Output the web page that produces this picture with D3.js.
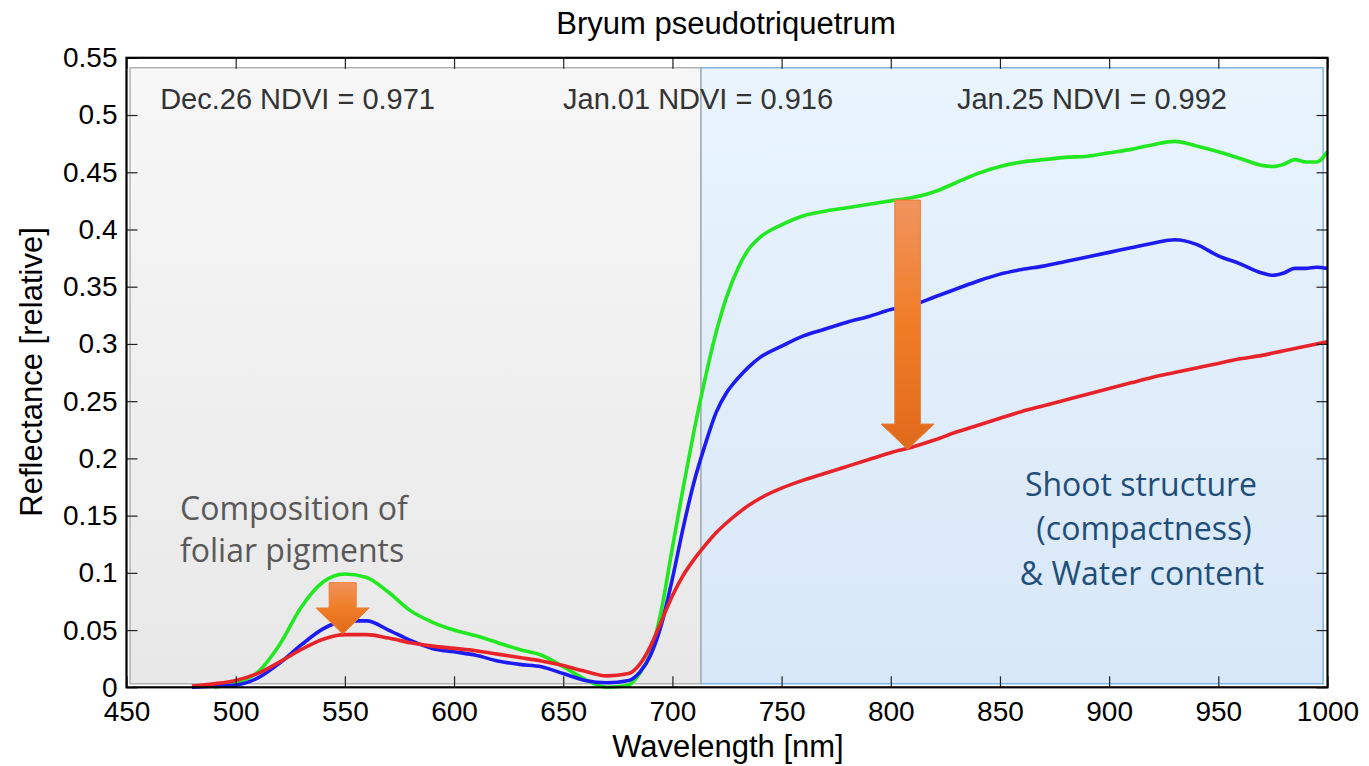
<!DOCTYPE html>
<html lang="en">
<head>
<meta charset="utf-8">
<title>Bryum pseudotriquetrum</title>
<script src="https://cdn.jsdelivr.net/npm/d3@7"></script>
<style>
  body { margin: 0; background: #fff; }
  text { font-family: "Liberation Sans", Arial, sans-serif; }
  .note { font-family: "Open Sans", "Noto Sans", sans-serif; }
</style>
</head>
<body>
<script>
// wavelength grid [nm]
var wl = [480,490,500,510,520,530,540,550,560,570,580,590,600,610,620,630,640,650,660,670,680,
          685,690,695,700,705,710,715,720,725,730,735,740,
          750,760,770,780,790,800,810,820,830,840,850,860,870,880,890,900,910,920,930,940,950,960,970,
          975,980,985,990,995,1000];

// reflectance
var greenVals = [null,0.0,0.004,0.013,0.037,0.07,0.092,0.099,0.096,0.083,0.067,0.057,0.05,0.045,0.039,0.033,0.028,0.018,0.007,0.0,0.002,
          0.012,0.03,0.068,0.122,0.175,0.225,0.27,0.31,0.342,0.366,0.383,0.393,
          0.404,0.412,0.416,0.419,0.422,0.425,0.428,0.433,0.441,0.449,0.455,0.459,0.461,0.463,0.464,0.467,0.47,0.474,0.477,0.473,0.468,0.462,0.456,
          0.455,0.457,0.461,0.459,0.459,0.468];
var blueVals = [0.0,0.001,0.002,0.008,0.021,0.037,0.051,0.058,0.058,0.05,0.041,0.034,0.031,0.028,0.023,0.02,0.018,0.012,0.006,0.004,0.006,
          0.013,0.028,0.055,0.095,0.14,0.18,0.212,0.24,0.258,0.27,0.28,0.288,
          0.298,0.307,0.313,0.319,0.324,0.33,0.334,0.341,0.348,0.355,0.361,0.365,0.368,0.372,0.376,0.38,0.384,0.388,0.391,0.387,0.377,0.37,0.362,
          0.36,0.362,0.366,0.366,0.367,0.366];
var redVals = [0.001,0.003,0.006,0.012,0.022,0.033,0.042,0.046,0.046,0.043,0.039,0.036,0.034,0.032,0.029,0.026,0.023,0.019,0.014,0.01,0.012,
          0.02,0.036,0.058,0.08,0.098,0.112,0.124,0.135,0.144,0.152,0.159,0.165,
          0.174,0.181,0.187,0.193,0.199,0.205,0.21,0.216,0.223,0.229,0.235,0.241,0.246,0.251,0.256,0.261,0.266,0.271,0.275,0.279,0.283,0.287,0.29,
          0.292,0.294,0.296,0.298,0.3,0.302];

var seriesColors = ["#22e822", "#1c1cf2", "#e8242a"];

var xTicks = [450,500,550,600,650,700,750,800,850,900,950,1000];
var yTicks = [0,0.05,0.1,0.15,0.2,0.25,0.3,0.35,0.4,0.45,0.5,0.55];

var ndviLabels = ["Dec.26 NDVI = 0.971", "Jan.01 NDVI = 0.916", "Jan.25 NDVI = 0.992"];
var ndviStart = [465.4, 649.9, 830.3];

// arrows: [wavelength, top, head start, tip]
var arrows = [[549, 0.0914, 0.0693, 0.0466], [807.7, 0.4257, 0.23, 0.208]];

var w = 1369, h = 766;

var x = d3.scaleLinear().domain([450, 1000]).range([126.5, 1327.5]);
var y = d3.scaleLinear().domain([0, 0.55]).range([687.3, 57.8]);

var svg = d3.select("body").append("svg").attr("width", w).attr("height", h);

var defs = svg.append("defs");
var gg = defs.append("linearGradient").attr("id", "grayBg").attr("x1", 0).attr("y1", 0).attr("x2", 0).attr("y2", 1);
gg.append("stop").attr("offset", "0%").attr("stop-color", "#f7f7f7");
gg.append("stop").attr("offset", "100%").attr("stop-color", "#e8e8e8");
var bg = defs.append("linearGradient").attr("id", "blueBg").attr("x1", 0).attr("y1", 0).attr("x2", 0).attr("y2", 1);
bg.append("stop").attr("offset", "0%").attr("stop-color", "#e9f4fd");
bg.append("stop").attr("offset", "100%").attr("stop-color", "#d8e7f7");
var ag = defs.append("linearGradient").attr("id", "arrowFill").attr("x1", 0).attr("y1", 0).attr("x2", 0).attr("y2", 1);
ag.append("stop").attr("offset", "0%").attr("stop-color", "#f1935e");
ag.append("stop").attr("offset", "50%").attr("stop-color", "#f07d26");
ag.append("stop").attr("offset", "100%").attr("stop-color", "#e0691b");

// shaded regions (blue first so the gray divider sits on top)
var regTop = y.range()[1] + 10, regBot = y.range()[0] - 3.5;
svg.append("rect")
  .attr("x", x(713)).attr("y", regTop)
  .attr("width", x(998) - x(713)).attr("height", regBot - regTop)
  .attr("fill", "url(#blueBg)").attr("stroke", "#69a6de").attr("stroke-width", 1.2);
svg.append("rect")
  .attr("x", x(451.6)).attr("y", regTop)
  .attr("width", x(713) - x(451.6)).attr("height", regBot - regTop)
  .attr("fill", "url(#grayBg)").attr("stroke", "#a3a3a3").attr("stroke-width", 1.2);

// curves
var line = d3.line()
  .defined(function(d) { return d[1] != null; })
  .x(function(d) { return x(d[0]); })
  .y(function(d) { return y(d[1]); })
  .curve(d3.curveMonotoneX);

[greenVals, blueVals, redVals].forEach(function(vals, i) {
  svg.append("path")
    .datum(wl.map(function(v, j) { return [v, vals[j]]; }))
    .attr("d", line)
    .attr("fill", "none")
    .attr("stroke", seriesColors[i])
    .attr("stroke-width", 3.6)
    .attr("stroke-linejoin", "round");
});

// axes (ticks inward on all four sides)
var fmt = d3.format("~g");
function styleAxis(g) {
  g.select(".domain").remove();
  g.selectAll(".tick line").attr("stroke", "#222").attr("stroke-width", 1.2);
  g.selectAll(".tick text").attr("fill", "#000").attr("font-size", "28px")
    .attr("font-family", "'Liberation Sans', Arial, sans-serif");
}
svg.append("g").attr("transform", "translate(0," + y(0) + ")")
  .call(d3.axisBottom(x).tickValues(xTicks).tickSize(-11).tickPadding(14).tickFormat(fmt))
  .call(styleAxis);
svg.append("g").attr("transform", "translate(0," + y(0.55) + ")")
  .call(d3.axisTop(x).tickValues(xTicks).tickSize(-11).tickFormat(""))
  .call(styleAxis);
svg.append("g").attr("transform", "translate(" + x(450) + ",0)")
  .call(d3.axisLeft(y).tickValues(yTicks).tickSize(-11).tickPadding(9).tickFormat(fmt))
  .call(styleAxis);
svg.append("g").attr("transform", "translate(" + x(1000) + ",0)")
  .call(d3.axisRight(y).tickValues(yTicks).tickSize(-11).tickFormat(""))
  .call(styleAxis);

svg.append("rect")
  .attr("x", x(450)).attr("y", y(0.55))
  .attr("width", x(1000) - x(450)).attr("height", y(0) - y(0.55))
  .attr("fill", "none").attr("stroke", "#000").attr("stroke-width", 2.2);

// titles
svg.append("text").attr("x", 726).attr("y", 34).attr("text-anchor", "middle")
  .attr("font-size", "31px").attr("fill", "#000").text("Bryum pseudotriquetrum");
svg.append("text").attr("x", 728).attr("y", 757).attr("text-anchor", "middle")
  .attr("font-size", "31px").attr("fill", "#000").text("Wavelength [nm]");
svg.append("text").attr("transform", "translate(42,372) rotate(-90)").attr("text-anchor", "middle")
  .attr("font-size", "31px").attr("fill", "#000").text("Reflectance [relative]");

// NDVI labels
svg.selectAll(".ndvi").data(ndviLabels).enter().append("text")
  .attr("class", "ndvi")
  .attr("x", function(d, i) { return x(ndviStart[i]); })
  .attr("y", 109)
  .attr("font-size", "29px").attr("fill", "#333")
  .text(function(d) { return d; });

// arrows
arrows.forEach(function(a) {
  var cx = x(a[0]), shaft = a[0] < 700 ? 13.5 : 12.8, head = 26.5;
  var p = d3.path();
  p.moveTo(cx - shaft, y(a[1]));
  p.lineTo(cx + shaft, y(a[1]));
  p.lineTo(cx + shaft, y(a[2]));
  p.lineTo(cx + head, y(a[2]));
  p.lineTo(cx, y(a[3]));
  p.lineTo(cx - head, y(a[2]));
  p.lineTo(cx - shaft, y(a[2]));
  p.closePath();
  svg.append("path").attr("d", p.toString())
    .attr("fill", "url(#arrowFill)").attr("stroke", "#ec7d33").attr("stroke-width", 1);
});

// annotations
var comp = svg.append("text").attr("class", "note").attr("font-size", "32px").attr("fill", "#595959");
comp.append("tspan").attr("x", 180).attr("y", 520).text("Composition of");
comp.append("tspan").attr("x", 180).attr("y", 562).text("foliar pigments");

var shoot = svg.append("text").attr("class", "note").attr("font-size", "32px").attr("fill", "#1f4e79")
  .attr("text-anchor", "middle");
shoot.append("tspan").attr("x", 1141).attr("y", 496).text("Shoot structure");
shoot.append("tspan").attr("x", 1144).attr("y", 540).text("(compactness)");
shoot.append("tspan").attr("x", 1142).attr("y", 585).text("& Water content");
</script>
</body>
</html>
